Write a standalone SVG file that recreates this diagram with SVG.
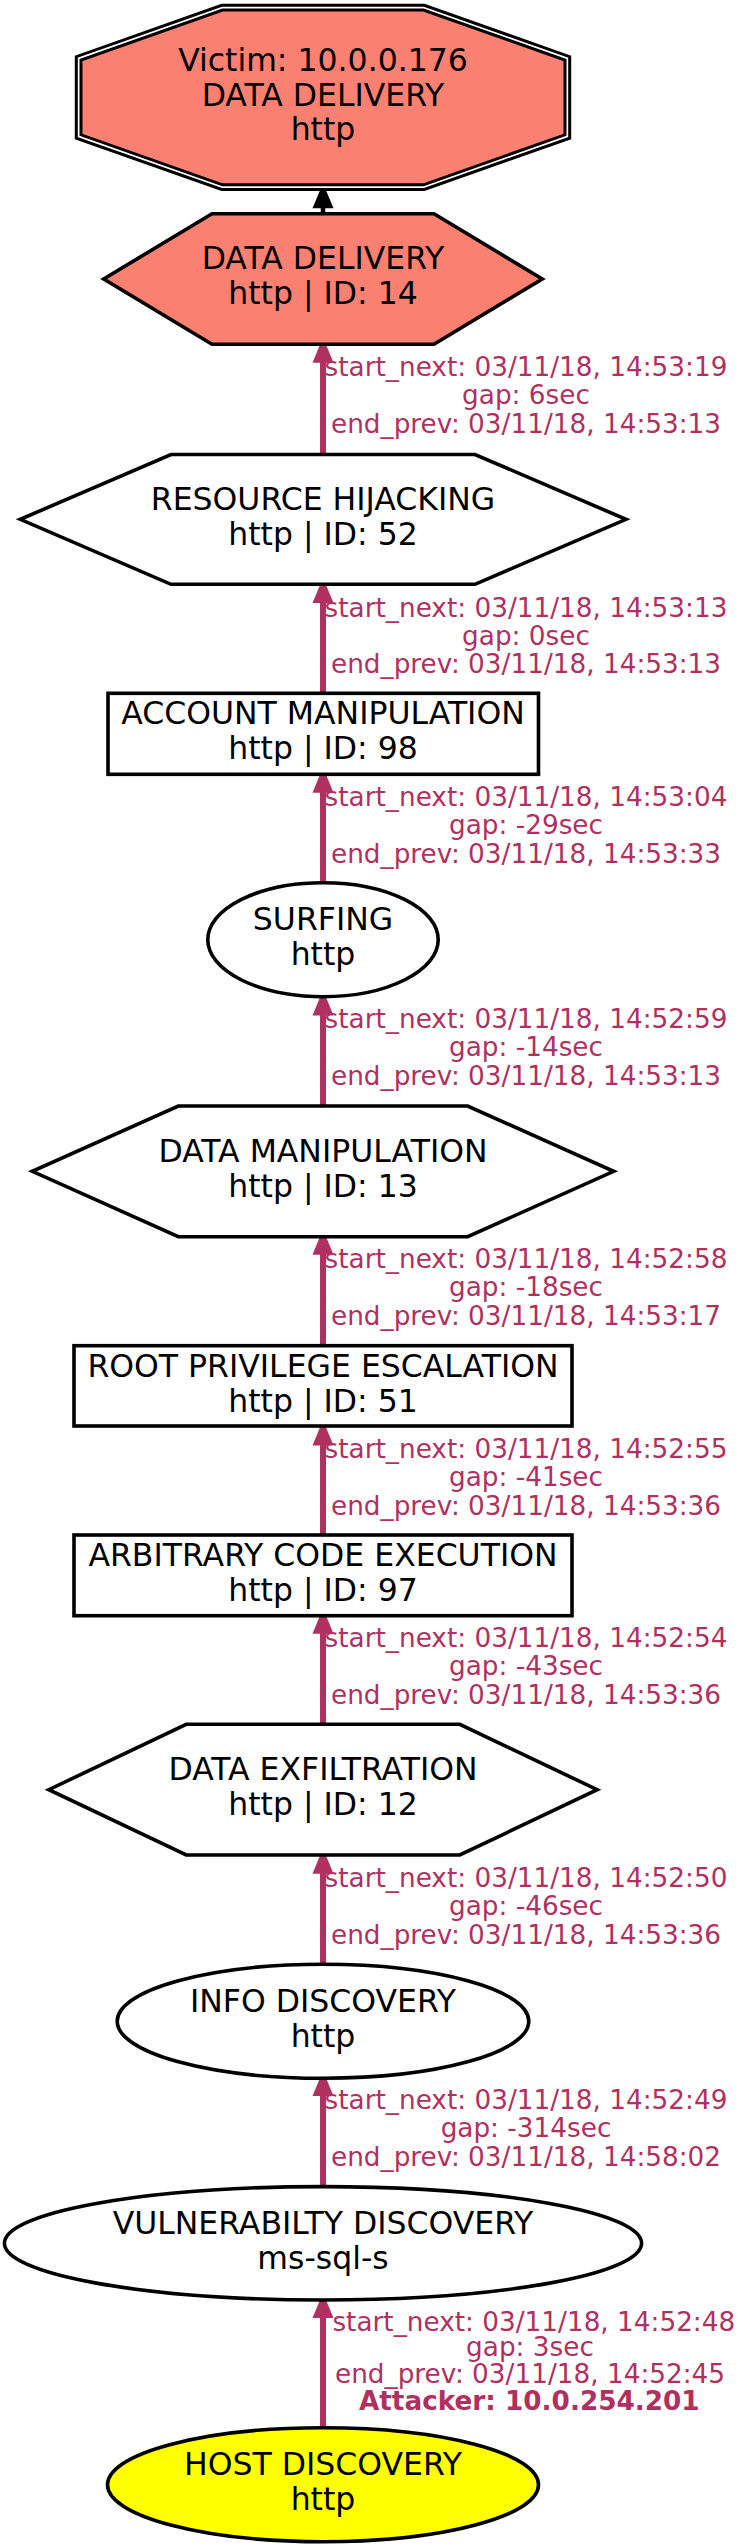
<svg xmlns="http://www.w3.org/2000/svg" width="743" height="2547" viewBox="0 0 743 2547">
<style>
.bg{fill:#ffffff}
.shape{stroke:#000000;stroke-width:3.6;fill:#ffffff}
.salmon{fill:#fa8072}
.yellow{fill:#ffff00}
.nt{font-family:"DejaVu Sans","Liberation Sans",sans-serif;font-size:31.5px;fill:#000000;text-anchor:middle}
.el{font-family:"DejaVu Sans","Liberation Sans",sans-serif;font-size:26.3px;fill:#b03060;text-anchor:middle}
.elb{font-weight:bold}
.edge{stroke:#b03060;stroke-width:6;fill:none}
.head{fill:#b03060;stroke:none}
.edgek{stroke:#000000;stroke-width:4.5;fill:none}
.headk{fill:#000000;stroke:none}
</style>
<rect class="bg" x="0" y="0" width="743" height="2547"/>

<g id="connectors">
  <g id="e1">
    <line class="edgek" x1="323" y1="213.7" x2="323" y2="205"/>
    <polygon class="headk" points="323,183.3 312.5,208.3 333.5,208.3"/>
  </g>
  <g id="e2">
    <line class="edge" x1="323" y1="454.5" x2="323" y2="358"/>
    <polygon class="head" points="323,337.3 312.5,362.7 333.5,362.7"/>
    <text class="el" x="526" y="376">start_next: 03/11/18, 14:53:19</text>
    <text class="el" x="526" y="404">gap: 6sec</text>
    <text class="el" x="526" y="432.7">end_prev: 03/11/18, 14:53:13</text>
  </g>
  <g id="e3">
    <line class="edge" x1="323" y1="693.3" x2="323" y2="598"/>
    <polygon class="head" points="323,577.7 312.5,603.1 333.5,603.1"/>
    <text class="el" x="526" y="616.5">start_next: 03/11/18, 14:53:13</text>
    <text class="el" x="526" y="644.6">gap: 0sec</text>
    <text class="el" x="526" y="673.2">end_prev: 03/11/18, 14:53:13</text>
  </g>
  <g id="e4">
    <line class="edge" x1="323" y1="882.7" x2="323" y2="788"/>
    <polygon class="head" points="323,767.3 312.5,792.7 333.5,792.7"/>
    <text class="el" x="526" y="806">start_next: 03/11/18, 14:53:04</text>
    <text class="el" x="526" y="834.2">gap: -29sec</text>
    <text class="el" x="526" y="862.7">end_prev: 03/11/18, 14:53:33</text>
  </g>
  <g id="e5">
    <line class="edge" x1="323" y1="1106" x2="323" y2="1010"/>
    <polygon class="head" points="323,990 312.5,1015.4 333.5,1015.4"/>
    <text class="el" x="526" y="1028">start_next: 03/11/18, 14:52:59</text>
    <text class="el" x="526" y="1056.3">gap: -14sec</text>
    <text class="el" x="526" y="1085.2">end_prev: 03/11/18, 14:53:13</text>
  </g>
  <g id="e6">
    <line class="edge" x1="323" y1="1345.7" x2="323" y2="1250"/>
    <polygon class="head" points="323,1229.3 312.5,1254.7 333.5,1254.7"/>
    <text class="el" x="526" y="1268">start_next: 03/11/18, 14:52:58</text>
    <text class="el" x="526" y="1296.3">gap: -18sec</text>
    <text class="el" x="526" y="1324.8">end_prev: 03/11/18, 14:53:17</text>
  </g>
  <g id="e7">
    <line class="edge" x1="323" y1="1535" x2="323" y2="1440"/>
    <polygon class="head" points="323,1420 312.5,1445.4 333.5,1445.4"/>
    <text class="el" x="526" y="1457.5">start_next: 03/11/18, 14:52:55</text>
    <text class="el" x="526" y="1486">gap: -41sec</text>
    <text class="el" x="526" y="1515.2">end_prev: 03/11/18, 14:53:36</text>
  </g>
  <g id="e8">
    <line class="edge" x1="323" y1="1724.3" x2="323" y2="1628"/>
    <polygon class="head" points="323,1608.3 312.5,1633.7 333.5,1633.7"/>
    <text class="el" x="526" y="1646.5">start_next: 03/11/18, 14:52:54</text>
    <text class="el" x="526" y="1675">gap: -43sec</text>
    <text class="el" x="526" y="1703.5">end_prev: 03/11/18, 14:53:36</text>
  </g>
  <g id="e9">
    <line class="edge" x1="323" y1="1964.3" x2="323" y2="1868"/>
    <polygon class="head" points="323,1848.3 312.5,1873.7 333.5,1873.7"/>
    <text class="el" x="526" y="1886.5">start_next: 03/11/18, 14:52:50</text>
    <text class="el" x="526" y="1915">gap: -46sec</text>
    <text class="el" x="526" y="1943.8">end_prev: 03/11/18, 14:53:36</text>
  </g>
  <g id="e10">
    <line class="edge" x1="323" y1="2186.7" x2="323" y2="2090"/>
    <polygon class="head" points="323,2070.7 312.5,2096.1 333.5,2096.1"/>
    <text class="el" x="526" y="2109">start_next: 03/11/18, 14:52:49</text>
    <text class="el" x="526" y="2137.4">gap: -314sec</text>
    <text class="el" x="526" y="2166">end_prev: 03/11/18, 14:58:02</text>
  </g>
  <g id="e11">
    <line class="edge" x1="323" y1="2427.7" x2="323" y2="2312"/>
    <polygon class="head" points="323,2292.7 312.5,2318.1 333.5,2318.1"/>
    <text class="el" x="533.8" y="2330.7">start_next: 03/11/18, 14:52:48</text>
    <text class="el" x="530" y="2355.5">gap: 3sec</text>
    <text class="el" x="530" y="2382.7">end_prev: 03/11/18, 14:52:45</text>
    <text class="el elb" x="529.3" y="2410">Attacker: 10.0.254.201</text>
  </g>
</g>

<g id="victim">
  <polygon points="221.7,5.3 424.3,5.3 569.7,56.7 569.7,138.1 424.3,189.5 221.7,189.5 76.3,138.1 76.3,56.7" fill="#ffffff" stroke="#000000" stroke-width="3"/>
  <polygon points="222.5,10 423.5,10 565,60 565,134.8 423.5,184.8 222.5,184.8 81,134.8 81,60" class="salmon" stroke="#000000" stroke-width="3"/>
  <text class="nt" x="323" y="71">Victim: 10.0.0.176</text>
  <text class="nt" x="323" y="106">DATA DELIVERY</text>
  <text class="nt" x="323" y="140">http</text>
</g>

<g id="n14">
  <polygon class="shape salmon" points="212,213.7 434,213.7 542.3,279 434,344.3 212,344.3 103.7,279"/>
  <text class="nt" x="323" y="269">DATA DELIVERY</text>
  <text class="nt" x="323" y="304">http | ID: 14</text>
</g>

<g id="n52">
  <polygon class="shape" points="171,454.5 475,454.5 626,519.3 475,584.3 171,584.3 20.3,519.3"/>
  <text class="nt" x="323" y="510">RESOURCE HIJACKING</text>
  <text class="nt" x="323" y="544.5">http | ID: 52</text>
</g>

<g id="n98">
  <rect class="shape" x="108" y="693.3" width="430.5" height="81"/>
  <text class="nt" x="323" y="724.3">ACCOUNT MANIPULATION</text>
  <text class="nt" x="323" y="759.3">http | ID: 98</text>
</g>

<g id="surfing">
  <ellipse class="shape" cx="323" cy="939.7" rx="115.2" ry="57"/>
  <text class="nt" x="323" y="930">SURFING</text>
  <text class="nt" x="323" y="965">http</text>
</g>

<g id="n13">
  <polygon class="shape" points="178.3,1106 467.7,1106 613.7,1171.3 467.7,1236.7 178.3,1236.7 32.3,1171.3"/>
  <text class="nt" x="323" y="1161.7">DATA MANIPULATION</text>
  <text class="nt" x="323" y="1196.7">http | ID: 13</text>
</g>

<g id="n51">
  <rect class="shape" x="74" y="1345.7" width="498" height="80.3"/>
  <text class="nt" x="323" y="1376.7">ROOT PRIVILEGE ESCALATION</text>
  <text class="nt" x="323" y="1411.7">http | ID: 51</text>
</g>

<g id="n97">
  <rect class="shape" x="74" y="1535" width="498" height="80.7"/>
  <text class="nt" x="323" y="1565.5">ARBITRARY CODE EXECUTION</text>
  <text class="nt" x="323" y="1600.5">http | ID: 97</text>
</g>

<g id="n12">
  <polygon class="shape" points="186.2,1724.3 459.8,1724.3 597.2,1789.7 459.8,1855 186.2,1855 48.8,1789.7"/>
  <text class="nt" x="323" y="1780">DATA EXFILTRATION</text>
  <text class="nt" x="323" y="1815">http | ID: 12</text>
</g>

<g id="info">
  <ellipse class="shape" cx="323" cy="2021.3" rx="205.8" ry="57"/>
  <text class="nt" x="323" y="2011.7">INFO DISCOVERY</text>
  <text class="nt" x="323" y="2046.7">http</text>
</g>

<g id="vuln">
  <ellipse class="shape" cx="323" cy="2243.3" rx="318.6" ry="56.7"/>
  <text class="nt" x="323" y="2234.3">VULNERABILTY DISCOVERY</text>
  <text class="nt" x="323" y="2268.8">ms-sql-s</text>
</g>

<g id="host">
  <ellipse class="shape yellow" cx="323" cy="2484.7" rx="215.5" ry="57"/>
  <text class="nt" x="323" y="2475">HOST DISCOVERY</text>
  <text class="nt" x="323" y="2509.8">http</text>
</g>
</svg>
